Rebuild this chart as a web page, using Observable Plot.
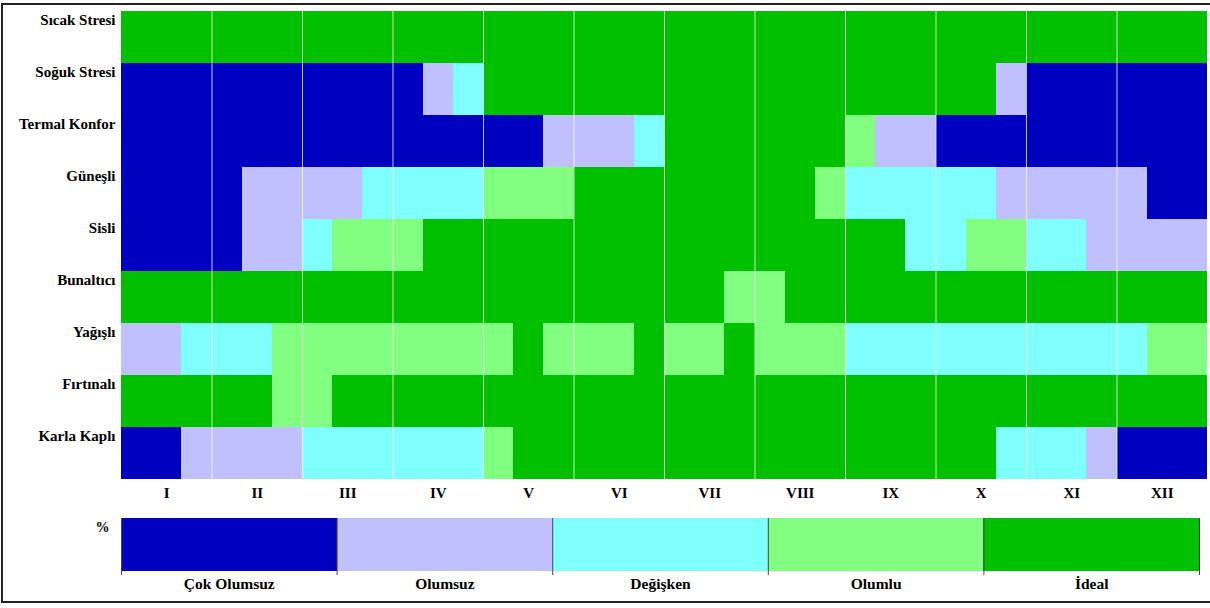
<!DOCTYPE html>
<html>
<head>
<meta charset="utf-8">
<script src="https://cdn.jsdelivr.net/npm/d3@7"></script>
<script src="https://cdn.jsdelivr.net/npm/@observablehq/plot@0.6"></script>
<style>
  html, body { margin: 0; padding: 0; background: #fff; overflow: hidden; }
  #wrap { position: relative; width: 1210px; height: 608px; overflow: hidden; }
  #frame { position: absolute; left: 1px; top: 3px; width: 1300px; height: 600px; border: 2px solid #222; box-sizing: border-box; pointer-events: none; }
  #chart svg, #legend svg { display: block; }
  #wrap svg text { font-family: 'Liberation Serif', 'Times New Roman', serif; font-weight: bold; fill: #000; }
</style>
</head>
<body>
<div id="wrap">
  <div id="chart"></div>
  <div id="legend"></div>
  <div id="frame"></div>
</div>
<script>
const rowNames = ["Sıcak Stresi", "Soğuk Stresi", "Termal Konfor", "Güneşli", "Sisli", "Bunaltıcı", "Yağışlı", "Fırtınalı", "Karla Kaplı"];
const monthLabels = ["I", "II", "III", "IV", "V", "VI", "VII", "VIII", "IX", "X", "XI", "XII"];
const categories = ["Çok Olumsuz", "Olumsuz", "Değişken", "Olumlu", "İdeal"];
const colors = ["#0000c0", "#c0c0ff", "#80ffff", "#80ff80", "#00c000"];

// 36 ten-day periods (3 per month); 1 = Çok Olumsuz ... 5 = İdeal
const sicakStresi  = [5,5,5, 5,5,5, 5,5,5, 5,5,5, 5,5,5, 5,5,5, 5,5,5, 5,5,5, 5,5,5, 5,5,5, 5,5,5, 5,5,5];
const sogukStresi  = [1,1,1, 1,1,1, 1,1,1, 1,2,3, 5,5,5, 5,5,5, 5,5,5, 5,5,5, 5,5,5, 5,5,2, 1,1,1, 1,1,1];
const termalKonfor = [1,1,1, 1,1,1, 1,1,1, 1,1,1, 1,1,2, 2,2,3, 5,5,5, 5,5,5, 4,2,2, 1,1,1, 1,1,1, 1,1,1];
const gunesli      = [1,1,1, 1,2,2, 2,2,3, 3,3,3, 4,4,4, 5,5,5, 5,5,5, 5,5,4, 3,3,3, 3,3,2, 2,2,2, 2,1,1];
const sisli        = [1,1,1, 1,2,2, 3,4,4, 4,5,5, 5,5,5, 5,5,5, 5,5,5, 5,5,5, 5,5,3, 3,4,4, 3,3,2, 2,2,2];
const bunaltici    = [5,5,5, 5,5,5, 5,5,5, 5,5,5, 5,5,5, 5,5,5, 5,5,4, 4,5,5, 5,5,5, 5,5,5, 5,5,5, 5,5,5];
const yagisli      = [2,2,3, 3,3,4, 4,4,4, 4,4,4, 4,5,4, 4,4,5, 4,4,5, 4,4,4, 3,3,3, 3,3,3, 3,3,3, 3,4,4];
const firtinali    = [5,5,5, 5,5,4, 4,5,5, 5,5,5, 5,5,5, 5,5,5, 5,5,5, 5,5,5, 5,5,5, 5,5,5, 5,5,5, 5,5,5];
const karlaKapli   = [1,1,2, 2,2,2, 3,3,3, 3,3,3, 4,5,5, 5,5,5, 5,5,5, 5,5,5, 5,5,5, 5,5,3, 3,3,2, 1,1,1];

const grid = [sicakStresi, sogukStresi, termalKonfor, gunesli, sisli, bunaltici, yagisli, firtinali, karlaKapli];
const cells = rowNames.flatMap((r, i) => grid[i].map((v, k) => ({row: r, col: k, cat: categories[v - 1]})));
const monthBounds = monthLabels.slice(1).map((_, i) => (i + 1) * 3);
const monthCenters = monthLabels.map((_, i) => i * 3 + 1.5);

const chart = Plot.plot({
  width: 1210,
  height: 500,
  marginTop: 9,
  marginBottom: 19,
  marginLeft: 121,
  marginRight: 3,
  style: {background: "transparent", overflow: "visible"},
  x: {domain: [0, monthLabels.length * 3], axis: null, label: null},
  y: {domain: rowNames, padding: 0, axis: null, label: null},
  color: {domain: categories, range: colors},
  marks: [
    Plot.rect(cells, {x1: "col", x2: d => d.col + 1, y: "row", fill: "cat", shapeRendering: "crispEdges"}),
    Plot.ruleX(monthBounds, {stroke: "#fff", strokeOpacity: 0.75, strokeWidth: 1}),
    Plot.axisY({tickSize: 0, tickPadding: 6, dy: -17, fontSize: 15, label: null}),
    Plot.axisX({ticks: monthCenters, tickFormat: d => monthLabels[Math.round((d - 1.5) / 3)], tickSize: 0, tickPadding: 6, fontSize: 15, label: null})
  ]
});
document.getElementById("chart").appendChild(chart);

const legendCells = categories.map((c, i) => ({cat: c, i}));
const legend = Plot.plot({
  width: 1210,
  height: 108,
  marginTop: 18,
  marginBottom: 37,
  marginLeft: 121,
  marginRight: 11,
  style: {background: "transparent", overflow: "visible"},
  x: {domain: [0, categories.length], axis: null, label: null},
  color: {domain: categories, range: colors},
  marks: [
    Plot.rect(legendCells, {x1: "i", x2: d => d.i + 1, fill: "cat", shapeRendering: "crispEdges"}),
    Plot.ruleX(d3.range(categories.length + 1), {stroke: "#444", strokeWidth: 1, insetBottom: -4}),
    Plot.text(legendCells, {x: d => d.i + 0.5, text: "cat", frameAnchor: "bottom", dy: 13, lineAnchor: "middle", fontSize: 15.5}),
    Plot.text(["%"], {x: () => 0, text: d => d, frameAnchor: "top", dx: -19, dy: 9.5, lineAnchor: "middle", fontSize: 14})
  ]
});
document.getElementById("legend").appendChild(legend);
</script>
</body>
</html>
